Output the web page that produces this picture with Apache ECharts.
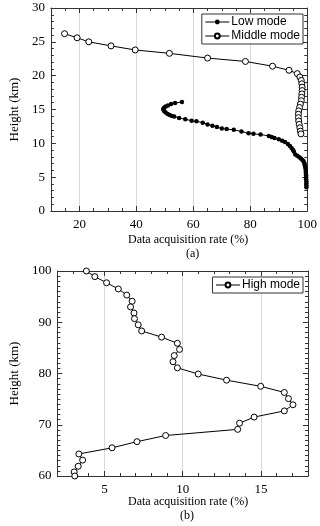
<!DOCTYPE html>
<html>
<head>
<meta charset="utf-8">
<script src="https://cdn.jsdelivr.net/npm/echarts@6/dist/echarts.min.js"></script>
<style>
  html, body { margin: 0; padding: 0; background: #fff; }
  #chart { width: 320px; height: 526px; }
</style>
</head>
<body>
<div id="chart"></div>
<script>
// (a) low mode
const lowRate = [56.0, 53.6, 52.2, 51.1, 50.3, 49.8, 49.5, 49.5, 49.8, 50.3, 51.0, 51.7, 52.5, 53.3, 55.0, 57.2, 59.4, 61.1, 63.3, 65.0, 66.7, 68.3, 70.0, 71.7, 74.2, 76.9, 79.4, 81.1, 83.6, 86.5, 87.5, 88.5, 90.0, 91.2, 92.2, 93.2, 93.9, 94.5, 95.0, 95.3, 95.8, 96.5, 97.2, 97.8, 98.3, 98.7, 99.0, 99.1, 99.3, 99.4, 99.5, 99.5, 99.6, 99.6, 99.6, 99.7, 99.7, 99.7, 99.7];
const lowHeight = [16.1, 15.95, 15.8, 15.6, 15.45, 15.3, 15.1, 14.95, 14.75, 14.55, 14.35, 14.2, 14.05, 13.95, 13.75, 13.55, 13.35, 13.25, 13.05, 12.8, 12.6, 12.4, 12.2, 12.1, 12.0, 11.75, 11.5, 11.4, 11.3, 11.1, 10.95, 10.8, 10.6, 10.4, 10.2, 9.9, 9.6, 9.3, 9.0, 8.8, 8.35, 8.15, 7.95, 7.75, 7.55, 7.35, 7.05, 6.8, 6.5, 6.2, 5.9, 5.6, 5.3, 5.0, 4.7, 4.4, 4.1, 3.8, 3.5];
// (a) middle mode
const midRate = [14.8, 19.2, 23.3, 31.1, 39.6, 51.6, 65.0, 78.3, 87.8, 93.6, 96.5, 97.4, 97.9, 98.1, 98.2, 98.2, 98.1, 98.0, 97.9, 97.6, 97.3, 97.0, 96.9, 96.9, 97.0, 97.2, 97.4, 97.6, 97.8];
const midHeight = [26.2, 25.6, 25.0, 24.4, 23.8, 23.3, 22.6, 22.1, 21.4, 20.8, 20.3, 19.8, 19.3, 18.8, 18.3, 17.8, 17.3, 16.8, 16.3, 15.8, 15.3, 14.8, 14.3, 13.8, 13.3, 12.8, 12.3, 11.8, 11.4];
// (b) high mode
const highRate = [3.85, 4.39, 5.14, 5.89, 6.43, 6.77, 6.67, 6.89, 6.92, 7.16, 7.38, 8.65, 9.66, 9.8, 9.46, 9.38, 9.66, 10.99, 12.8, 14.98, 16.49, 16.75, 17.04, 16.49, 14.56, 13.63, 13.51, 8.91, 7.08, 5.49, 3.37, 3.61, 3.33, 3.07, 3.11];
const highHeight = [100, 98.9, 97.7, 96.5, 95.3, 94.1, 93.0, 91.8, 90.7, 89.5, 88.3, 87.1, 85.9, 84.7, 83.5, 82.3, 81.1, 79.9, 78.7, 77.5, 76.3, 75.1, 73.9, 72.7, 71.5, 70.3, 69.1, 67.9, 66.7, 65.5, 64.3, 63.1, 61.9, 60.8, 60.0];

const ticksA = [20, 40, 60, 80, 100];
const ticksB = [5, 10, 15];

const serif = "'Liberation Serif', 'Times New Roman', serif";
const sans = "'Liberation Sans', Arial, sans-serif";
const frame = "#333";

const pairs = (xs, ys) => xs.map((x, i) => [x, ys[i]]);

// one axis with labels + long ticks, one with only short ticks
const xAxes = (grid, min, max, step, major, pos) => [
  {
    gridIndex: grid, type: "value", position: pos, min: min, max: max,
    axisLine: { show: true, lineStyle: { color: frame } },
    axisTick: { show: true, inside: true, length: 5, customValues: major, lineStyle: { color: frame } },
    axisLabel: pos === "bottom"
      ? { show: true, customValues: major, color: "#000", fontFamily: serif, fontSize: 13, margin: 7 }
      : { show: false },
    splitLine: { show: pos === "bottom", lineStyle: { color: "#d9d9d9" } },
  },
  {
    gridIndex: grid, type: "value", position: pos, min: min, max: max, interval: step,
    axisLine: { show: false },
    axisTick: { show: true, inside: true, length: 3, lineStyle: { color: frame } },
    axisLabel: { show: false },
    splitLine: { show: false },
  },
];

const yAxis = (grid, min, max, interval, minor, pos) => ({
  gridIndex: grid, type: "value", position: pos, min: min, max: max, interval: interval,
  name: pos === "left" ? "Height (km)" : "",
  nameLocation: "middle", nameGap: 24,
  nameTextStyle: { fontFamily: serif, fontSize: 13, color: "#000" },
  axisLine: { show: true, lineStyle: { color: frame } },
  axisTick: { show: true, inside: true, length: 5, lineStyle: { color: frame } },
  minorTick: { show: true, splitNumber: minor, length: 3, lineStyle: { color: frame } },
  axisLabel: { show: pos === "left", color: "#000", fontFamily: serif, fontSize: 13, margin: 6 },
  splitLine: { show: false },
});

const legendBase = {
  orient: "vertical", right: 17,
  itemWidth: 24, itemHeight: 6, itemGap: 2, padding: [2, 3],
  borderColor: frame, borderWidth: 1, backgroundColor: "#fff",
  lineStyle: { width: 1 },
  textStyle: { fontFamily: sans, fontSize: 12, color: "#000", padding: [0, 0, 0, -3] },
};

const openSymbol = {
  symbol: "circle", symbolSize: 6, showAllSymbol: true,
  itemStyle: { color: "#fff", borderColor: "#000", borderWidth: 1 },
  lineStyle: { color: "#000", width: 1 },
};

const chart = echarts.init(document.getElementById("chart"));
const option = {
  animation: false,
  backgroundColor: "#fff",
  grid: [
    { left: 40, top: 8, width: 268, height: 203 },
    { left: 40, top: 271, width: 268, height: 205 },
  ],
  xAxis: [
    ...xAxes(0, 10, 100, 5, ticksA, "bottom"),
    ...xAxes(0, 10, 100, 5, ticksA, "top"),
    ...xAxes(1, 2, 18, 1, ticksB, "bottom"),
    ...xAxes(1, 2, 18, 1, ticksB, "top"),
  ],
  yAxis: [
    yAxis(0, 0, 30, 5, 5, "left"),
    yAxis(0, 0, 30, 5, 5, "right"),
    yAxis(1, 60, 100, 10, 10, "left"),
    yAxis(1, 60, 100, 10, 10, "right"),
  ],
  legend: [
    Object.assign({}, legendBase, { data: ["Low mode", "Middle mode"], top: 14 }),
    Object.assign({}, legendBase, { data: ["High mode"], top: 277 }),
  ],
  graphic: [
    { type: "text", left: 189 - 61, top: 234, style: { text: "Data acquisition rate (%)", font: "12px " + serif, fill: "#000" } },
    { type: "text", left: 186, top: 248, style: { text: "(a)", font: "12px " + serif, fill: "#000" } },
    { type: "text", left: 189 - 61, top: 496, style: { text: "Data acquisition rate (%)", font: "12px " + serif, fill: "#000" } },
    { type: "text", left: 180, top: 510, style: { text: "(b)", font: "12px " + serif, fill: "#000" } },
  ],
  series: [
    {
      name: "Low mode", type: "line", xAxisIndex: 0, yAxisIndex: 0,
      data: pairs(lowRate, lowHeight),
      symbol: "circle", symbolSize: 4.5, showAllSymbol: true,
      itemStyle: { color: "#000", borderWidth: 0 }, lineStyle: { color: "#000", width: 1 },
    },
    Object.assign({
      name: "Middle mode", type: "line", xAxisIndex: 0, yAxisIndex: 0,
      data: pairs(midRate, midHeight),
    }, openSymbol),
    Object.assign({
      name: "High mode", type: "line", xAxisIndex: 4, yAxisIndex: 2,
      data: pairs(highRate, highHeight),
    }, openSymbol),
  ],
};
chart.setOption(option);
</script>
</body>
</html>
